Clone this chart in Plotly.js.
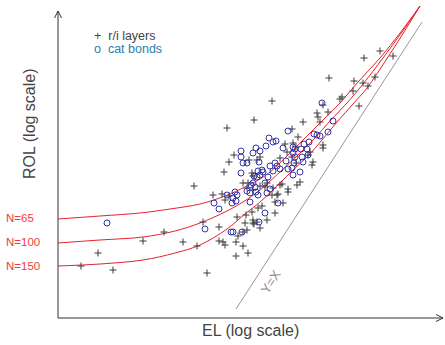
<!DOCTYPE html>
<html>
<head>
<meta charset="utf-8">
<script src="https://cdn.plot.ly/plotly-3.0.1.min.js"></script>
<style>html,body{margin:0;padding:0;background:#fff}#chart{width:445px;height:345px}</style>
</head>
<body>
<div id="chart"></div>
<script>
// r/i layers (+)
var riEL = [306,322,335,271,296,305,317,310,295,284,282,301,214,196,169,245,259,260,262,270,265,234,240,265,265,176,171,202,222,227,235,238,252,250,255,254,191,199,166,194,195,238,229,234,242,239,230,230,224,225,217,219,215,217,209,202,195,195,188,200,204,189,185,180,178,185,190,178,165,167,161,164,167,155,136,185,189,195,202,207,214,220,222,145,161,106,85,125,139,40,23,55,149,179,187,196,199,194,171,190,209];
var riROL = [260,267,262,240,237,235,241,232,227,221,219,212,217,198,190,196,205,201,196,206,213,189,181,173,170,163,156,161,160,174,175,171,166,163,156,153,158,158,146,145,142,155,166,161,136,133,129,126,134,115,116,123,130,105,98,90,95,98,103,110,112,88,86,82,76,72,65,62,76,73,77,124,118,123,132,135,130,128,132,131,123,124,133,96,91,86,77,76,72,65,52,48,45,101,95,94,96,106,122,135,135];
// cat bonds (o)
var cbEL = [264,275,270,230,256,259,262,211,215,218,208,198,202,183,183,195,185,189,201,225,235,237,246,251,243,249,235,237,244,250,212,217,228,236,245,222,205,200,215,234,242,183,196,202,235,220,207,201,192,184,175,173,199,204,195,197,198,200,177,179,175,174,169,192,207,209,212,156,161,147,49,189,193,210,230,219,178];
var cbROL = [215,197,186,187,184,183,182,180,176,177,172,170,167,167,161,165,155,155,156,170,171,169,174,176,169,169,165,161,161,163,152,155,157,155,156,149,146,147,147,150,146,145,142,143,143,115,105,96,116,86,86,86,141,148,135,131,126,123,126,123,120,115,123,125,135,125,129,115,109,89,95,127,133,141,149,152,117];
// iso-N curves
var n65EL  = [0,42,82,112,142,167,187,202,212,227,245,264,282,300,322,342,362];
var n65ROL = [99,102,105,109,114,122,131,139,146,160,178,197,215,236,260,285,312];
var n100EL  = [0,42,85,117,142,167,185,202,224,240,255,272,289,305,325,344,362];
var n100ROL = [75,78,81,87,95,106,116,128,148,163,178,197,215,234,260,286,312];
var n150EL  = [0,42,85,117,142,169,187,202,222,235,250,264,279,295,309,328,346,362];
var n150ROL = [52,54,58,65,73,89,104,116,135,148,162,178,196,214,230,258,286,312];
// Y = X reference
var diagEL  = [178,364];
var diagROL = [9,296];
var curveLabels = ['N=65','N=100','N=150'];

var red = '#e8202a';
var traces = [
  {x:diagEL, y:diagROL, mode:'lines', line:{color:'#a09494', width:1}, hoverinfo:'skip'},
  {x:n65EL, y:n65ROL, mode:'lines', line:{color:red, width:1, shape:'spline'}, hoverinfo:'skip'},
  {x:n100EL, y:n100ROL, mode:'lines', line:{color:red, width:1, shape:'spline'}, hoverinfo:'skip'},
  {x:n150EL, y:n150ROL, mode:'lines', line:{color:red, width:1, shape:'spline'}, hoverinfo:'skip'},
  {x:riEL, y:riROL, mode:'markers', marker:{symbol:'cross-thin-open', size:5, line:{color:'#3a3a3a', width:1}, color:'#3a3a3a'}},
  {x:cbEL, y:cbROL, mode:'markers', marker:{symbol:'circle-open', size:6, line:{color:'#3535a5', width:1}, color:'#3535a5'}}
];

function px2paperX(p){return (p-53)/391;}
function px2paperY(p){return (323-p)/319;}

var font = 'Liberation Sans, Arial, Helvetica, sans-serif';
var ann = [
  {xref:'paper', yref:'paper', x:px2paperX(30), y:px2paperY(124), xanchor:'center', yanchor:'middle', text:'ROL (log scale)', textangle:-90, showarrow:false, font:{family:font, size:16, color:'#444'}},
  {xref:'paper', yref:'paper', x:px2paperX(250), y:px2paperY(330), xanchor:'center', yanchor:'middle', text:'EL (log scale)', showarrow:false, font:{family:font, size:16, color:'#444'}},
  {xref:'paper', yref:'paper', x:px2paperX(92), y:px2paperY(36), xanchor:'left', yanchor:'middle', text:'+  r/i layers', showarrow:false, font:{family:font, size:12.5, color:'#444'}},
  {xref:'paper', yref:'paper', x:px2paperX(92), y:px2paperY(49), xanchor:'left', yanchor:'middle', text:'o  cat bonds', showarrow:false, font:{family:font, size:12.5, color:'#2a80b0'}},
  {x:212, y:36, xanchor:'center', yanchor:'middle', text:'Y=X', textangle:-57, showarrow:false, font:{family:font, size:13, color:'#9a8c8c'}}
];
var labelY = [218,242,266];
for (var i=0;i<curveLabels.length;i++){
  ann.push({xref:'paper', yref:'paper', x:px2paperX(4), y:px2paperY(labelY[i]), xanchor:'left', yanchor:'middle', text:curveLabels[i], showarrow:false, font:{family:font, size:11.5, color:'#f03c3c'}});
}

var axc = '#333';
var shapes = [
  {type:'line', x0:0, y0:0, x1:0, y1:307, line:{color:axc, width:1}},
  {type:'path', path:'M -3.5 300 L 0 307 L 3.5 300', line:{color:axc, width:1}},
  {type:'line', x0:0, y0:0, x1:385, y1:0, line:{color:axc, width:1}},
  {type:'path', path:'M 378 3.5 L 385 0 L 378 -3.5', line:{color:axc, width:1}}
];

var layout = {
  width:445, height:345,
  margin:{l:53, r:1, t:4, b:22},
  paper_bgcolor:'#fff', plot_bgcolor:'#fff',
  showlegend:false,
  xaxis:{range:[-5,386], showgrid:false, zeroline:false, showticklabels:false, ticks:'', showline:false},
  yaxis:{range:[-5,314], showgrid:false, zeroline:false, showticklabels:false, ticks:'', showline:false},
  annotations:ann,
  shapes:shapes
};
Plotly.newPlot('chart', traces, layout, {staticPlot:true, displayModeBar:false});
</script>
</body>
</html>
